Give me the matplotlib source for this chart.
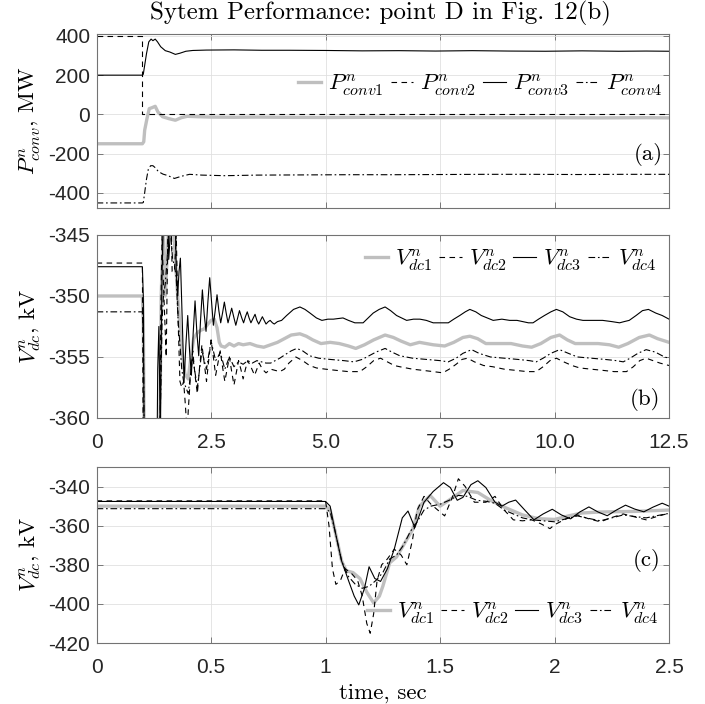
import numpy as np
import matplotlib
matplotlib.use("Agg")
import matplotlib.pyplot as plt

# ---- data (time in s) ----
# converter powers, MW
p1 = [(0, -150), (1.0, -150), (1.03, -140), (1.05, -81), (1.10, -22), (1.15, 29),
      (1.21, 34), (1.28, 41), (1.34, 12), (1.44, -12), (1.58, -22), (1.72, -30),
      (1.85, -17), (1.98, -10), (2.2, -12), (2.5, -14), (3.0, -15), (3.5, -14),
      (4.0, -15), (5.0, -16), (6.0, -15), (7.0, -17), (8.0, -16), (9.0, -17),
      (10.0, -17), (11.0, -18), (12.0, -17), (12.5, -18)]
p2 = [(0, 400), (1.0, 400), (1.0, 0), (12.5, 0)]
p3 = [(0, 200), (1.0, 200), (1.02, 205), (1.05, 250), (1.09, 310), (1.14, 370),
      (1.19, 384), (1.23, 376), (1.28, 384), (1.33, 370), (1.40, 345), (1.50, 325),
      (1.60, 318), (1.72, 306), (1.82, 312), (1.95, 322), (2.1, 326), (2.4, 328),
      (3.0, 329), (3.6, 327), (4.2, 327), (5.0, 326), (5.8, 324), (6.6, 325),
      (7.4, 323), (8.2, 325), (9.0, 323), (9.8, 322), (10.6, 324), (11.4, 322),
      (12.0, 323), (12.5, 322)]
p4 = [(0, -452), (1.0, -452), (1.02, -450), (1.05, -400), (1.09, -330), (1.13, -280),
      (1.18, -262), (1.23, -262), (1.28, -272), (1.35, -292), (1.45, -305),
      (1.55, -312), (1.70, -327), (1.85, -316), (2.03, -306), (2.3, -310),
      (2.8, -313), (3.5, -310), (4.5, -309), (5.5, -308), (6.5, -308), (7.5, -307),
      (8.5, -306), (9.5, -306), (10.5, -307), (11.5, -306), (12.5, -306)]

# dc voltages, kV
v1 = [(0, -350), (1.0, -350), (1.02, -352), (1.04, -362), (1.07, -378), (1.09, -383),
      (1.12, -384), (1.15, -387), (1.18, -394), (1.21, -399.5), (1.235, -396),
      (1.25, -391), (1.28, -379), (1.31, -376), (1.34, -370), (1.38, -362),
      (1.41, -350), (1.457, -344.6), (1.50, -350), (1.545, -346.5), (1.60, -342),
      (1.665, -343), (1.72, -347), (1.78, -350.5), (1.82, -352.5), (1.86, -354.5),
      (1.93, -356.4), (2.0, -356.8), (2.06, -355), (2.12, -353.5), (2.2, -353),
      (2.28, -352.8), (2.35, -352.7), (2.43, -352.3), (2.50, -352.0), (2.57, -351.9),
      (2.63, -352.6), (2.68, -353.8), (2.72, -354.1), (2.80, -354.2), (2.90, -353.9),
      (3.0, -354.1), (3.1, -353.9), (3.2, -354.0), (3.35, -353.9), (3.5, -354.1),
      (3.65, -354.2), (3.8, -354.0), (3.95, -353.8), (4.1, -353.5), (4.25, -353.2),
      (4.44, -353.1), (4.58, -353.3), (4.72, -353.6), (4.90, -353.9), (5.10, -353.8),
      (5.30, -353.9), (5.50, -354.1), (5.66, -354.3), (5.85, -354.0), (6.05, -353.6),
      (6.30, -353.2), (6.48, -353.4), (6.65, -353.7), (6.85, -354.0), (7.05, -353.8),
      (7.35, -354.0), (7.60, -354.1), (7.80, -353.8), (8.0, -353.4), (8.15, -353.3),
      (8.32, -353.5), (8.50, -353.9), (8.75, -353.9), (9.05, -353.9), (9.30, -354.1),
      (9.50, -354.2), (9.70, -353.9), (9.92, -353.4), (10.11, -353.2), (10.28, -353.6),
      (10.45, -353.9), (10.70, -353.9), (10.95, -353.9), (11.20, -354.0),
      (11.40, -354.2), (11.60, -353.9), (11.85, -353.4), (12.07, -353.2),
      (12.25, -353.5), (12.5, -353.8)]
v2 = [(0, -347.3), (1.0, -347.3), (1.015, -360), (1.03, -382), (1.045, -390),
      (1.065, -388), (1.085, -382), (1.11, -384), (1.14, -388), (1.16, -396),
      (1.18, -410), (1.195, -415), (1.21, -405), (1.225, -388), (1.245, -380),
      (1.27, -377), (1.30, -372), (1.33, -375), (1.355, -380), (1.38, -367),
      (1.40, -352), (1.43, -345), (1.46, -349), (1.49, -352), (1.52, -355),
      (1.555, -345), (1.58, -336), (1.61, -340), (1.65, -348), (1.70, -348),
      (1.74, -345), (1.78, -352), (1.82, -357), (1.86, -357.5), (1.90, -357),
      (1.94, -359), (1.98, -361.5), (2.0, -359.5), (2.05, -356.5), (2.1, -354.5),
      (2.15, -356.5), (2.2, -358.0), (2.25, -355.8), (2.3, -354.0), (2.35, -355.5),
      (2.4, -357.0), (2.45, -355.2), (2.5, -353.6), (2.55, -355.0), (2.6, -356.5),
      (2.65, -355.5), (2.7, -354.5), (2.75, -355.8), (2.8, -357.0), (2.85, -356.0),
      (2.9, -355.0), (2.95, -356.2), (3.0, -357.3), (3.05, -356.3), (3.1, -355.3),
      (3.15, -356.0), (3.2, -356.8), (3.25, -356.0), (3.3, -355.3), (3.38, -355.9),
      (3.45, -356.5), (3.5, -356.0), (3.55, -355.5), (3.62, -356.0), (3.7, -356.3),
      (3.8, -356.0), (3.9, -356.1), (4.0, -356.2), (4.1, -356.0), (4.2, -355.5),
      (4.35, -355.0), (4.5, -355.3), (4.65, -355.7), (4.8, -355.9), (5.0, -356.0),
      (5.24, -356.1), (5.5, -356.2), (5.75, -356.2), (5.9, -355.8), (6.05, -355.3),
      (6.2, -355.1), (6.35, -355.4), (6.5, -355.7), (6.62, -355.8), (6.9, -356.0),
      (7.13, -356.1), (7.35, -356.2), (7.56, -356.3), (7.7, -356.0), (7.85, -355.6),
      (7.98, -355.2), (8.1, -355.1), (8.25, -355.4), (8.45, -355.7), (8.65, -355.8),
      (8.9, -356.0), (9.16, -356.1), (9.4, -356.2), (9.6, -356.2), (9.75, -355.8),
      (9.9, -355.3), (10.04, -355.1), (10.2, -355.4), (10.38, -355.7), (10.55, -355.9),
      (10.8, -356.0), (11.06, -356.1), (11.3, -356.2), (11.57, -356.2), (11.72, -355.8),
      (11.86, -355.3), (12.0, -355.1), (12.15, -355.3), (12.3, -355.5), (12.5, -355.7)]
v3 = [(0, -347.6), (1.0, -347.6), (1.02, -350), (1.04, -362), (1.07, -378),
      (1.10, -388), (1.125, -396), (1.145, -400.5), (1.17, -392), (1.19, -381),
      (1.215, -387), (1.24, -388.5), (1.27, -382), (1.30, -372), (1.335, -356),
      (1.36, -352.5), (1.39, -361), (1.43, -348), (1.47, -342.5), (1.515, -338),
      (1.545, -340.5), (1.575, -347), (1.60, -345.5), (1.635, -339), (1.665, -337),
      (1.70, -340.5), (1.74, -348), (1.77, -350), (1.80, -348), (1.83, -346.9),
      (1.87, -352), (1.91, -357), (1.95, -354), (1.99, -351.6), (2.03, -354.5),
      (2.07, -356.5), (2.11, -353), (2.15, -350.4), (2.19, -353), (2.23, -354.9),
      (2.27, -352), (2.31, -349.5), (2.35, -351.5), (2.39, -352.9), (2.43, -350.5),
      (2.47, -348.5), (2.51, -350.5), (2.55, -352.4), (2.59, -351.2), (2.63, -349.9),
      (2.67, -351.2), (2.71, -352.2), (2.75, -351.4), (2.79, -350.5), (2.83, -351.4),
      (2.87, -352.2), (2.91, -351.6), (2.95, -351.0), (3.0, -351.8), (3.04, -352.4),
      (3.08, -351.8), (3.12, -351.2), (3.17, -351.8), (3.21, -352.2), (3.25, -351.7),
      (3.29, -351.3), (3.33, -351.8), (3.37, -352.2), (3.42, -351.8), (3.46, -351.5),
      (3.50, -352.0), (3.54, -352.3), (3.58, -352.0), (3.62, -351.7), (3.66, -352.0),
      (3.70, -352.3), (3.75, -352.1), (3.79, -352.0), (3.84, -352.2), (3.88, -352.3),
      (3.95, -352.1), (4.04, -352.0), (4.15, -351.6), (4.30, -351.1), (4.44, -350.9),
      (4.55, -351.1), (4.66, -351.4), (4.80, -351.8), (4.92, -352.0), (5.05, -351.9),
      (5.17, -351.9), (5.38, -351.8), (5.50, -352.0), (5.64, -352.2), (5.82, -352.2),
      (5.93, -351.8), (6.04, -351.4), (6.17, -351.1), (6.30, -350.9), (6.42, -351.2),
      (6.55, -351.6), (6.77, -352.0), (6.92, -351.9), (7.06, -351.9), (7.20, -352.0),
      (7.35, -352.2), (7.52, -352.2), (7.68, -352.2), (7.80, -351.9), (7.93, -351.6),
      (8.05, -351.3), (8.15, -351.1), (8.28, -351.3), (8.40, -351.6), (8.53, -351.8),
      (8.66, -352.0), (8.85, -351.9), (9.02, -352.0), (9.18, -352.0), (9.31, -352.1),
      (9.43, -352.2), (9.53, -352.2), (9.65, -351.9), (9.78, -351.6), (9.92, -351.3),
      (10.04, -351.1), (10.18, -351.3), (10.33, -351.7), (10.48, -351.9),
      (10.62, -352.0), (10.85, -352.0), (11.05, -352.0), (11.25, -352.1),
      (11.42, -352.2), (11.52, -352.1), (11.63, -352.0), (11.78, -351.6),
      (11.92, -351.2), (12.05, -351.1), (12.21, -351.4), (12.35, -351.6), (12.5, -351.9)]
v4 = [(0, -351.3), (1.0, -351.3), (1.02, -353), (1.04, -362), (1.07, -378),
      (1.10, -386), (1.13, -390), (1.16, -392), (1.19, -391), (1.22, -388),
      (1.25, -384), (1.28, -377), (1.31, -375), (1.34, -370), (1.37, -363),
      (1.40, -358), (1.43, -352), (1.46, -350), (1.50, -349), (1.54, -347),
      (1.58, -344.5), (1.62, -345), (1.66, -347), (1.70, -347.5), (1.74, -348.5),
      (1.78, -352), (1.82, -354), (1.86, -356), (1.90, -357), (1.95, -357.5),
      (2.0, -358), (2.05, -356.5), (2.1, -355), (2.15, -356.3), (2.2, -357.5),
      (2.25, -356), (2.3, -354.5), (2.35, -355.3), (2.4, -356), (2.45, -354.8),
      (2.5, -353.7), (2.55, -354.5), (2.6, -355.3), (2.65, -355.0), (2.7, -354.6),
      (2.75, -355.3), (2.8, -356.0), (2.85, -355.5), (2.9, -355.0), (2.95, -355.4),
      (3.0, -355.8), (3.1, -355.4), (3.2, -355.6), (3.3, -355.3), (3.4, -355.5),
      (3.5, -355.3), (3.6, -355.4), (3.7, -355.5), (3.8, -355.5), (3.9, -355.3),
      (4.0, -355.1), (4.12, -354.8), (4.25, -354.5), (4.37, -354.3), (4.5, -354.5),
      (4.65, -354.9), (4.85, -355.1), (5.1, -355.2), (5.4, -355.3), (5.62, -355.4),
      (5.8, -355.2), (5.95, -354.9), (6.1, -354.6), (6.3, -354.3), (6.45, -354.6),
      (6.62, -354.9), (6.9, -355.1), (7.2, -355.2), (7.5, -355.3), (7.68, -355.4),
      (7.85, -355.1), (8.0, -354.7), (8.19, -354.4), (8.35, -354.7), (8.6, -355.0),
      (8.9, -355.1), (9.2, -355.2), (9.45, -355.3), (9.6, -355.4), (9.75, -355.1),
      (9.92, -354.7), (10.11, -354.4), (10.3, -354.7), (10.5, -355.0), (10.8, -355.1),
      (11.1, -355.2), (11.35, -355.3), (11.5, -355.4), (11.65, -355.1),
      (11.82, -354.7), (12.0, -354.4), (12.2, -354.6), (12.4, -355.0), (12.5, -355.1)]

p_labels = [r"$P^{n}_{conv1}$", r"$P^{n}_{conv2}$", r"$P^{n}_{conv3}$", r"$P^{n}_{conv4}$"]
v_labels = [r"$V^{n}_{dc1}$", r"$V^{n}_{dc2}$", r"$V^{n}_{dc3}$", r"$V^{n}_{dc4}$"]

a_yticks = [-400, -200, 0, 200, 400]
b_xticks = [0, 2.5, 5, 7.5, 10, 12.5]
b_xticklabels = ["0", "2.5", "5.0", "7.5", "10.0", "12.5"]
b_yticks = [-360, -355, -350, -345]
c_xticks = [0, 0.5, 1, 1.5, 2, 2.5]
c_xticklabels = ["0", "0.5", "1", "1.5", "2", "2.5"]
c_yticks = [-420, -400, -380, -360, -340]

# ---- styling ----
plt.rcParams["mathtext.fontset"] = "cm"
plt.rcParams["axes.unicode_minus"] = False
plt.rcParams["font.family"] = ["Liberation Sans", "DejaVu Sans"]

styles = [
    dict(color="0.75", lw=2.4, ls="-"),
    dict(color="black", lw=0.8, ls=(0, (5, 4))),
    dict(color="black", lw=0.8, ls="-"),
    dict(color="black", lw=0.8, ls=(0, (6, 2.5, 1.5, 2.5))),
]
serif = "cmr10"


def style_axes(ax):
    ax.grid(True, color="0.88", lw=0.6)
    ax.set_axisbelow(True)
    ax.tick_params(direction="in", length=4, width=0.6, top=True, right=True,
                   labelsize=15, color="0.4", labelcolor="0.15")
    ax.tick_params(axis="x", pad=10.5)
    ax.tick_params(axis="y", pad=4.5)
    for sp in ax.spines.values():
        sp.set_color("0.45")
        sp.set_linewidth(0.8)
    ax.yaxis.set_label_coords(-0.116, 0.5)
    ax.yaxis.label.set_va("center")


def draw(ax, series, labels):
    lines = []
    for data, st, lab in zip(series, styles, labels):
        arr = np.array(data, dtype=float)
        ln, = ax.plot(arr[:, 0], arr[:, 1], label=lab, **st)
        lines.append(ln)
    return lines


def add_legend(ax, x, y):
    ax.legend(loc="center right", bbox_to_anchor=(x, y), frameon=False, ncol=4,
              fontsize=16.5, handlelength=1.0, handletextpad=0.3,
              columnspacing=0.3, borderaxespad=0, borderpad=0)


fig = plt.figure(figsize=(7.05, 7.04), dpi=100)
ax_a = fig.add_axes([0.137, 0.7045, 0.812, 0.2472])
ax_b = fig.add_axes([0.137, 0.4063, 0.812, 0.2599])
ax_c = fig.add_axes([0.137, 0.0866, 0.812, 0.25])

# (a) converter powers
draw(ax_a, [p1, p2, p3, p4], p_labels)
ax_a.set_xlim(0, 12.5)
ax_a.set_ylim(-478, 410)
ax_a.set_xticks(b_xticks)
ax_a.set_xticklabels([])
ax_a.set_yticks(a_yticks)
ax_a.set_ylabel(r"$P^{n}_{conv}$, MW", family=serif, fontsize=16.5)
style_axes(ax_a)
add_legend(ax_a, 0.988, 0.707)
ax_a.text(0.99, 0.305, "(a)", transform=ax_a.transAxes, ha="right", va="center",
          family=serif, fontsize=16.5)

# (b) dc voltages, whole run
draw(ax_b, [v1, v2, v3, v4], v_labels)
ax_b.set_xlim(0, 12.5)
ax_b.set_ylim(-360, -345)
ax_b.set_xticks(b_xticks)
ax_b.set_xticklabels(b_xticklabels)
ax_b.set_yticks(b_yticks)
ax_b.set_ylabel(r"$V^{n}_{dc}$, kV", family=serif, fontsize=16.5)
style_axes(ax_b)
add_legend(ax_b, 0.977, 0.863)
ax_b.text(0.985, 0.10, "(b)", transform=ax_b.transAxes, ha="right", va="center",
          family=serif, fontsize=16.5)

# (c) dc voltages, first 2.5 s
draw(ax_c, [v1, v2, v3, v4], v_labels)
ax_c.set_xlim(0, 2.5)
ax_c.set_ylim(-420, -330)
ax_c.set_xticks(c_xticks)
ax_c.set_xticklabels(c_xticklabels)
ax_c.set_yticks(c_yticks)
ax_c.set_ylabel(r"$V^{n}_{dc}$, kV", family=serif, fontsize=16.5)
ax_c.set_xlabel("time, sec", family=serif, fontsize=16.5)
style_axes(ax_c)
ax_c.xaxis.set_label_coords(0.5, -0.284)
ax_c.xaxis.label.set_va("center")
add_legend(ax_c, 0.981, 0.17)
ax_c.text(0.985, 0.47, "(c)", transform=ax_c.transAxes, ha="right", va="center",
          family=serif, fontsize=16.5)

fig.text(0.539, 0.981, "Sytem Performance: point D in Fig. 12(b)", ha="center",
         va="center", family=serif, fontsize=18)

fig.savefig("out.png", dpi=100)
